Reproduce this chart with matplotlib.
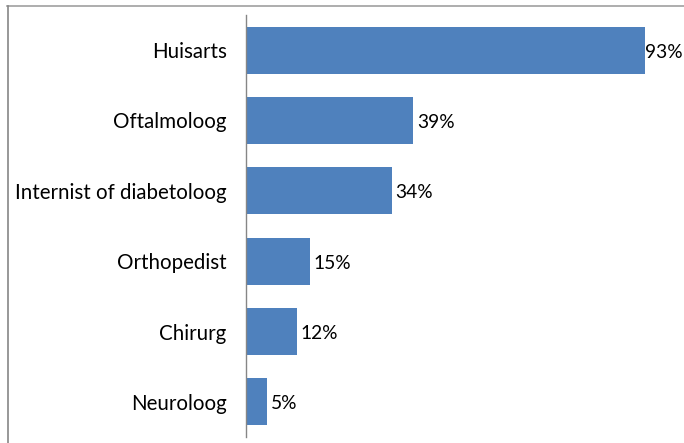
import matplotlib
matplotlib.use("Agg")
import matplotlib.pyplot as plt
from matplotlib.lines import Line2D

categories = ["Huisarts", "Oftalmoloog", "Internist of diabetoloog",
              "Orthopedist", "Chirurg", "Neuroloog"]
values = [93, 39, 34, 15, 12, 5]

plt.rcParams['font.family'] = ['Lato', 'DejaVu Sans']

fig = plt.figure(figsize=(6.84, 4.43), dpi=100)
ax = fig.add_axes([246 / 684, 1 - 437 / 443, 429 / 684, 422 / 443])

ypos = list(range(len(categories)))[::-1]
bars = ax.barh(ypos, values, height=0.67, color='#4F81BD')

for y, v in zip(ypos, values):
    # first label sits flush against the bar end, like the original
    off = 0.1 if v > 90 else 0.8
    ax.text(v + off, y - 0.03, f"{v}%", ha='left', va='center', fontsize=13.8, color='black')

ax.set_xlim(0, 100)
ax.set_ylim(-0.5, 5.5)
ax.set_yticks(ypos)
ax.set_yticklabels(categories, fontsize=14.8)
ax.tick_params(axis='y', length=0, pad=14)
ax.set_xticks([])
for s in ['top', 'right', 'bottom']:
    ax.spines[s].set_visible(False)
ax.spines['left'].set_color('#868686')
ax.spines['left'].set_linewidth(1.0)

# outer chart frame (top and left edges only visible)
fig.add_artist(Line2D([7 / 684, 1], [1 - 5.5 / 443, 1 - 5.5 / 443],
                      transform=fig.transFigure, color='#A0A0A0', lw=1.2))
fig.add_artist(Line2D([7.5 / 684, 7.5 / 684], [0, 1 - 5.5 / 443],
                      transform=fig.transFigure, color='#868686', lw=1.2))

fig.savefig("out.png", dpi=100)
